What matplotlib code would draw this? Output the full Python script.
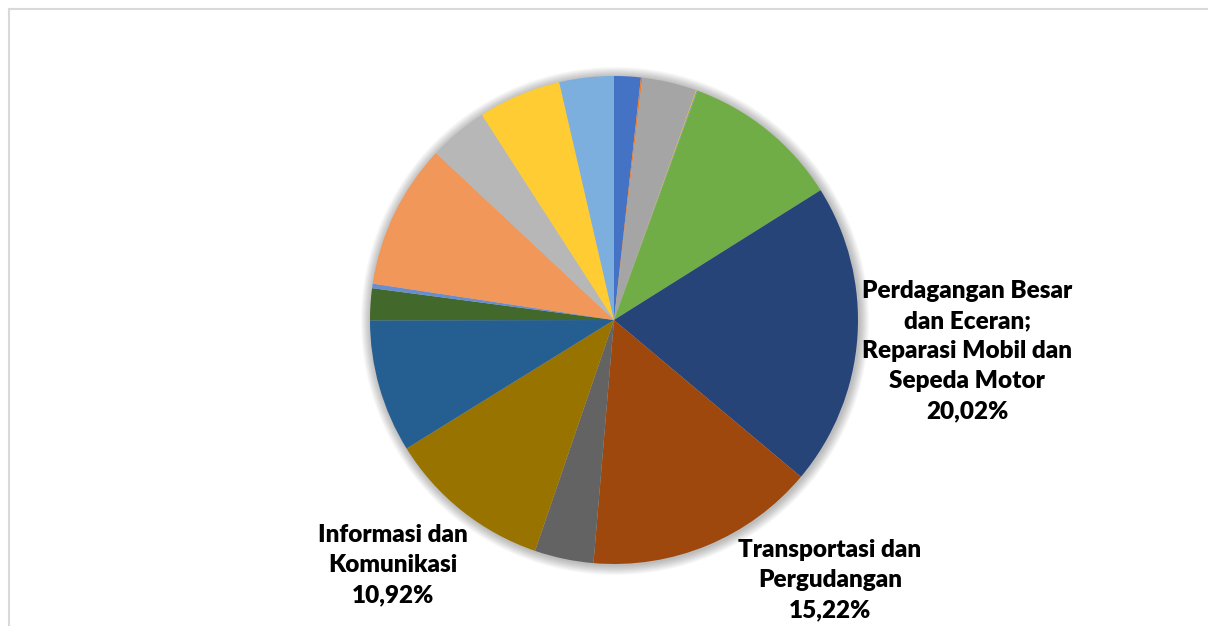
import matplotlib
matplotlib.use("Agg")
import matplotlib.pyplot as plt
from matplotlib.patches import Circle
from matplotlib.lines import Line2D

# ===== DATA (share of each sector, %, clockwise from 12 o'clock) =====
shares = [1.76, 0.10, 3.60, 0.05, 0.05, 10.50, 20.02, 15.22, 3.90,
          10.92, 8.80, 2.10, 0.30, 9.60, 3.90, 5.50, 3.60]
colors = ["#4472C4", "#ED7D31", "#A5A5A5", "#FFC000", "#5B9BD5", "#70AD47",
          "#264478", "#9E480E", "#636363", "#997300", "#255E91", "#43682B",
          "#698ED0", "#F1975A", "#B7B7B7", "#FFCD33", "#7CAFDD"]
labels = {
    6: "Perdagangan Besar\ndan Eceran;\nReparasi Mobil dan\nSepeda Motor\n20,02%",
    7: "Transportasi dan\nPergudangan\n15,22%",
    9: "Informasi dan\nKomunikasi\n10,92%",
}
label_pos = {6: (967, 275), 7: (830, 46), 9: (393, 61)}

W, H = 1208, 626
fig = plt.figure(figsize=(W / 100, H / 100), dpi=100)
ax = fig.add_axes([0, 0, 1, 1])

cx, cy, r = 614, 306, 244

# soft shadow around the pie
for k in range(10, 0, -1):
    ax.add_patch(Circle((cx + 1, cy - 1), r + k, color="#000000",
                        alpha=0.028, lw=0, zorder=1))

ax.pie(shares, colors=colors, startangle=90, counterclock=False,
       center=(cx, cy), radius=r, frame=True,
       wedgeprops=dict(linewidth=0, zorder=2))
ax.set_xlim(0, W)
ax.set_ylim(0, H)
ax.set_aspect("equal")
ax.axis("off")

for i, txt in labels.items():
    x, y = label_pos[i]
    ax.text(x, y, txt, ha="center", va="center", fontsize=17.5,
            fontweight="heavy", family="Lato", color="#000000",
            linespacing=1.45, zorder=5)

# chart frame (only top and left edges visible)
fig.add_artist(Line2D([8.5 / W, 1], [1 - 8.5 / H, 1 - 8.5 / H],
                      color="#D9D9D9", lw=1.5, transform=fig.transFigure))
fig.add_artist(Line2D([8.5 / W, 8.5 / W], [0, 1 - 8.5 / H],
                      color="#D9D9D9", lw=1.5, transform=fig.transFigure))

fig.savefig("out.png", dpi=100, facecolor="white")
